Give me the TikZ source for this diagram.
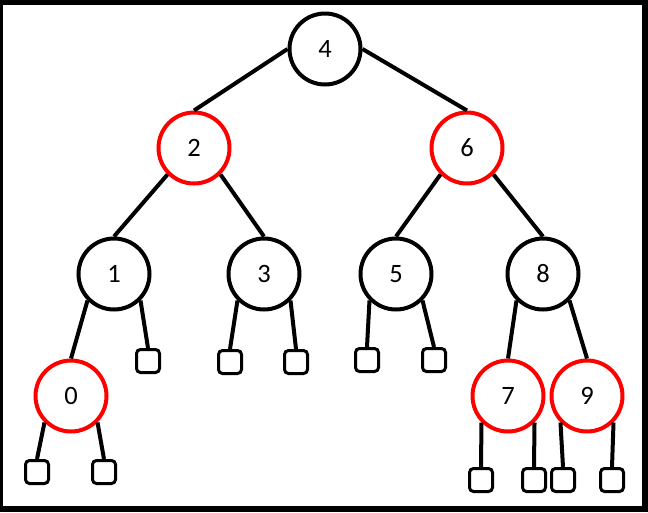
\documentclass[tikz,border=0pt]{standalone}
\usepackage{fontspec}
\setmainfont{Carlito}
\begin{document}
\begin{tikzpicture}[x=1pt,y=-1pt,
  bnode/.style={circle,draw=black,line width=4pt,fill=white,minimum size=71pt,inner sep=0pt,font=\fontsize{26.5}{26.5}\selectfont},
  rnode/.style={bnode,draw=red},
  leaf/.style={rectangle,draw=black,line width=3pt,fill=white,minimum size=23pt,inner sep=0pt,rounded corners=4pt},
  edge/.style={line width=4pt}]
\fill[black] (0,0) rectangle (648,512);
\fill[white] (3,5) rectangle (642,506);
\useasboundingbox (0,0) rectangle (648,512);
% internal nodes
\node[bnode] (n4) at (325,49) {4};
\node[rnode] (n2) at (194,148) {2};
\node[rnode] (n6) at (467,148) {6};
\node[bnode] (n1) at (114,274) {1};
\node[bnode] (n3) at (264,274) {3};
\node[bnode] (n5) at (396,274) {5};
\node[bnode] (n8) at (543,274) {8};
\node[rnode] (n0) at (71,396) {0};
\node[rnode] (n7) at (508,396) {7};
\node[rnode] (n9) at (587,396) {9};
% leaves
\node[leaf] (l1r) at (148,361) {};
\node[leaf] (l3l) at (230,362) {};
\node[leaf] (l3r) at (296,362) {};
\node[leaf] (l5l) at (367,360) {};
\node[leaf] (l5r) at (434,360) {};
\node[leaf] (l0l) at (37,472) {};
\node[leaf] (l0r) at (104,472) {};
\node[leaf] (l7l) at (481,480) {};
\node[leaf] (l7r) at (534,480) {};
\node[leaf] (l9l) at (563,480) {};
\node[leaf] (l9r) at (612,480) {};
% edges
\draw[edge] (n2.north) -- (n4.west);
\draw[edge] (n6.north) -- (n4.east);
\draw[edge] (n2.225) -- (n1.north);
\draw[edge] (n2.315) -- (n3.north);
\draw[edge] (n6.225) -- (n5.north);
\draw[edge] (n6.315) -- (n8.north);
\draw[edge] (n1.225) -- (n0.north);
\draw[edge] (n1.315) -- (l1r.north);
\draw[edge] (n3.225) -- (l3l.north);
\draw[edge] (n3.315) -- (l3r.north);
\draw[edge] (n5.225) -- (l5l.north);
\draw[edge] (n5.315) -- (l5r.north);
\draw[edge] (n8.225) -- (n7.north);
\draw[edge] (n8.315) -- (n9.north);
\draw[edge] (n0.225) -- (l0l.north);
\draw[edge] (n0.315) -- (l0r.north);
\draw[edge] (n7.225) -- (l7l.north);
\draw[edge] (n7.315) -- (l7r.north);
\draw[edge] (n9.225) -- (l9l.north);
\draw[edge] (n9.315) -- (l9r.north);
\end{tikzpicture}
\end{document}
